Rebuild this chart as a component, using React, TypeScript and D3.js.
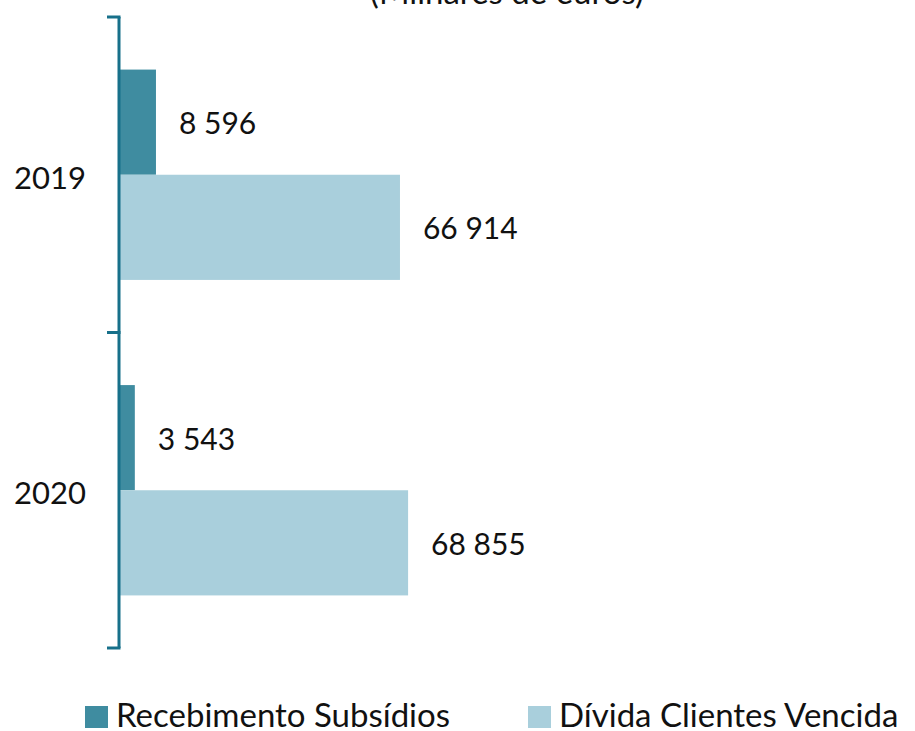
import React, { useRef, useEffect } from 'react';
import * as d3 from 'd3';

const years = ['2019', '2020'];
const seriesNames = ['Recebimento Subsídios', 'Dívida Clientes Vencida'];
const recebimento = [8596, 3543];
const dividaVencida = [66914, 68855];
const valueLabels = [
  ['8 596', '66 914'],
  ['3 543', '68 855'],
];
const title = '(Milhares de euros)';

const colors = ['#3F8CA0', '#A9CFDC'];
const axisColor = '#17708A';
const font = 'Lato, "Open Sans", sans-serif';

export default function App() {
  const svgRef = useRef<SVGSVGElement>(null);

  useEffect(() => {
    const svg = d3.select(svgRef.current);
    svg.selectAll('*').remove();

    // titulo cortado no topo
    svg
      .append('text')
      .attr('x', 507)
      .attr('y', 4)
      .attr('text-anchor', 'middle')
      .attr('font-family', font)
      .attr('font-size', '33px')
      .attr('fill', '#111')
      .text(title);

    const y = d3.scaleBand().domain(years).range([17, 648]).padding(0);
    const inner = d3
      .scaleBand()
      .domain(seriesNames)
      .range([0, y.bandwidth()])
      .paddingInner(0)
      .paddingOuter(0.5);

    const x = d3.scaleLinear().domain([0, 180000]).range([120, 120 + 0.004184 * 180000]);

    const rows = years.map((yr, i) => ({
      year: yr,
      values: [recebimento[i], dividaVencida[i]],
      labels: valueLabels[i],
    }));

    const g = svg.append('g');

    rows.forEach((row) => {
      row.values.forEach((v, j) => {
        const by = (y(row.year) as number) + (inner(seriesNames[j]) as number);
        g.append('rect')
          .attr('x', x(0))
          .attr('y', by)
          .attr('width', x(v) - x(0))
          .attr('height', inner.bandwidth())
          .attr('fill', colors[j]);

        g.append('text')
          .attr('x', x(v) + 23)
          .attr('y', by + inner.bandwidth() / 2)
          .attr('dominant-baseline', 'central')
          .attr('font-family', font)
          .attr('font-size', '30px')
          .attr('fill', '#111')
          .text(row.labels[j]);
      });
    });

    // eixo vertical com ticks nos limites das categorias
    const axis = svg.append('g');
    axis
      .append('line')
      .attr('x1', 119)
      .attr('x2', 119)
      .attr('y1', 17)
      .attr('y2', 648)
      .attr('stroke', axisColor)
      .attr('stroke-width', 3);

    const tickYs = [17, ...years.map((yr) => (y(yr) as number) + y.bandwidth())];
    axis
      .selectAll('line.tick')
      .data(tickYs)
      .enter()
      .append('line')
      .attr('class', 'tick')
      .attr('x1', 107)
      .attr('x2', 120.5)
      .attr('y1', (d) => d)
      .attr('y2', (d) => d)
      .attr('stroke', axisColor)
      .attr('stroke-width', 3);

    axis
      .selectAll('text.year')
      .data(years)
      .enter()
      .append('text')
      .attr('class', 'year')
      .attr('x', 14)
      .attr('y', (d) => (y(d) as number) + y.bandwidth() / 2 + 2)
      .attr('dominant-baseline', 'central')
      .attr('font-family', font)
      .attr('font-size', '31px')
      .attr('fill', '#111')
      .text((d) => d);

    // legenda
    const legendX = [85, 528];
    const legend = svg.append('g');
    seriesNames.forEach((name, j) => {
      legend
        .append('rect')
        .attr('x', legendX[j])
        .attr('y', 706)
        .attr('width', 23)
        .attr('height', 22)
        .attr('fill', colors[j]);
      legend
        .append('text')
        .attr('x', legendX[j] + 31)
        .attr('y', 727)
        .attr('font-family', font)
        .attr('font-size', '33px')
        .attr('fill', '#111')
        .text(name);
    });
  }, []);

  return (
    <svg
      ref={svgRef}
      width={915}
      height={731}
      style={{ position: 'absolute', left: 0, top: 0, background: '#fff' }}
      xmlns="http://www.w3.org/2000/svg"
    />
  );
}
